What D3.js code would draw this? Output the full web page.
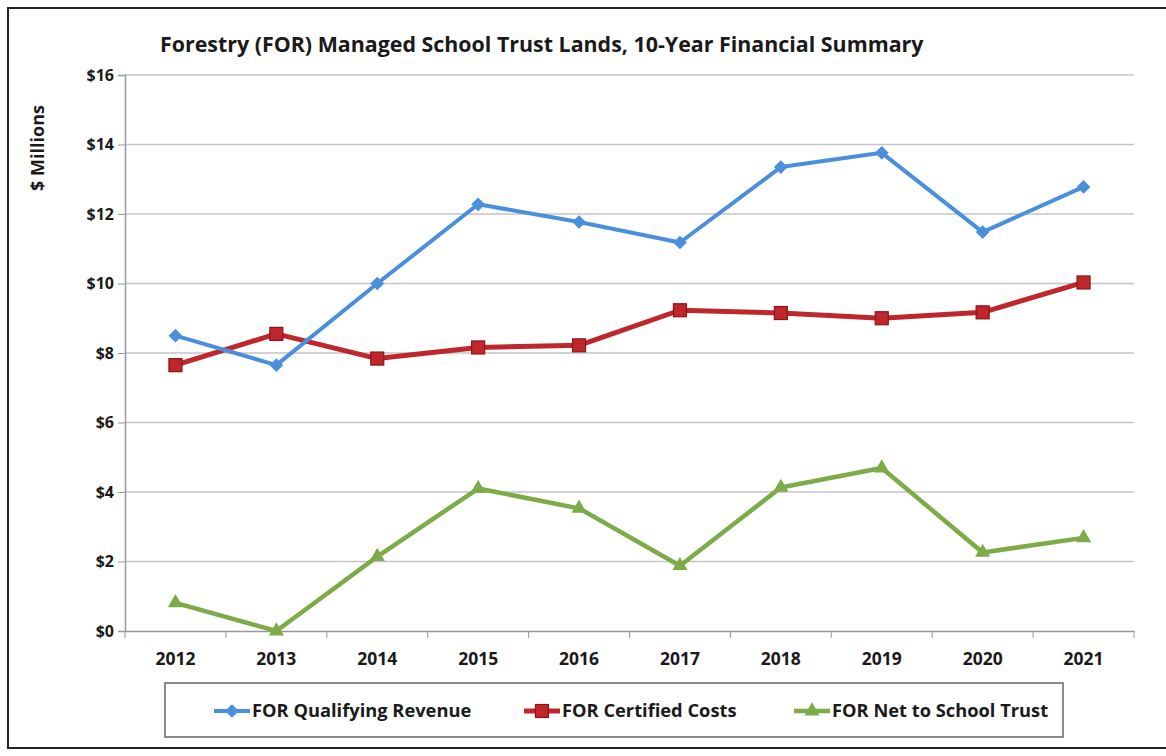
<!DOCTYPE html>
<html><head><meta charset="utf-8">
<script src="https://cdn.jsdelivr.net/npm/d3@7"></script>
<style>body{margin:0;background:#fff}svg{display:block}text{font-family:"Open Sans",Lato,sans-serif;font-weight:700;fill:#1a1a1a}</style>
</head><body><svg id="c" width="1166" height="756"></svg>
<script>
const years = ["2012","2013","2014","2015","2016","2017","2018","2019","2020","2021"];
const revenue = [8.5, 7.65, 10.0, 12.28, 11.77, 11.18, 13.35, 13.76, 11.48, 12.78];
const costs = [7.65, 8.55, 7.84, 8.16, 8.22, 9.23, 9.15, 9.0, 9.17, 10.03];
const net = [0.81, 0.0, 2.14, 4.1, 3.53, 1.88, 4.13, 4.69, 2.26, 2.68];
const yTicks = [0,2,4,6,8,10,12,14,16];
const seriesNames = ["FOR Qualifying Revenue","FOR Certified Costs","FOR Net to School Trust"];
const colors = ["#4a8fdc","#c0272d","#7dab48"];

const svg = d3.select("#c");
svg.append("rect").attr("x",8).attr("y",8).attr("width",1170).attr("height",740)
  .attr("fill","none").attr("stroke","#222").attr("stroke-width",2);

const x = d3.scaleBand().domain(years).range([125,1134]);
const y = d3.scaleLinear().domain([0,16]).range([631,75]);

svg.append("g").selectAll("line").data(yTicks.slice(1)).join("line")
  .attr("x1",125).attr("x2",1134).attr("y1",d=>y(d)).attr("y2",d=>y(d))
  .attr("stroke","#c4c4c4").attr("stroke-width",1.5);

const ya = svg.append("g").attr("transform","translate(125,0)")
  .call(d3.axisLeft(y).tickValues(yTicks).tickFormat(d=>"$"+d).tickSize(7).tickPadding(4));
ya.select(".domain").attr("stroke","#999").attr("stroke-width",1.5);
ya.selectAll(".tick line").attr("stroke","#999");
ya.selectAll("text").style("font-size","16px").attr("fill","#1a1a1a");

const xa = svg.append("g").attr("transform","translate(0,631)")
  .call(d3.axisBottom(x).tickSize(0).tickPadding(22));
xa.select(".domain").attr("stroke","#999").attr("stroke-width",1.5);
xa.selectAll("text").style("font-size","17.5px").attr("fill","#1a1a1a");
const bounds = years.map(d=>x(d)).concat([x(years[years.length-1])+x.bandwidth()]);
svg.append("g").selectAll("line").data(bounds).join("line")
  .attr("x1",d=>d).attr("x2",d=>d).attr("y1",631).attr("y2",638).attr("stroke","#999");

svg.append("text").attr("x",160).attr("y",52).style("font-size","21.4px").text("Forestry (FOR) Managed School Trust Lands, 10-Year Financial Summary");
svg.append("text").attr("transform","translate(44,148) rotate(-90)").attr("text-anchor","middle")
  .style("font-size","18px").text("$ Millions");

const cx = d => x(d)+x.bandwidth()/2;
const line = d3.line().x((d,i)=>cx(years[i])).y(d=>y(d));
const data = [revenue,costs,net];
const widths = [4,5,4.5];

function marker(g, k, px, py){
  if(k===0){
    g.append("path").attr("d",d3.symbol(d3.symbolDiamond2).size(120)()).attr("transform",`translate(${px},${py})`).attr("fill",colors[0]);
  } else if(k===1){
    g.append("rect").attr("x",px-6.5).attr("y",py-6.5).attr("width",13).attr("height",13).attr("fill","#c0272d").attr("stroke","#8a1515").attr("stroke-width",1.2);
  } else {
    g.append("path").attr("d",d3.symbol(d3.symbolTriangle).size(100)()).attr("transform",`translate(${px},${py})`).attr("fill",colors[2]);
  }
}
[2,1,0].forEach(k=>{
  svg.append("path").datum(data[k]).attr("d",line).attr("fill","none").attr("stroke",colors[k])
    .attr("stroke-width",widths[k]).attr("stroke-linejoin","round");
  const g = svg.append("g");
  data[k].forEach((v,i)=>marker(g,k,cx(years[i]),y(v)));
});

svg.append("rect").attr("x",165).attr("y",683).attr("width",898).attr("height",54).attr("fill","#fff").attr("stroke","#666").attr("stroke-width",1.5);
const lx = [214,524,794];
seriesNames.forEach((n,k)=>{
  const g = svg.append("g");
  g.append("line").attr("x1",lx[k]).attr("x2",lx[k]+36).attr("y1",711).attr("y2",711).attr("stroke",colors[k]).attr("stroke-width",widths[k]);
  marker(g,k,lx[k]+18,711);
  g.append("text").attr("x",lx[k]+38).attr("y",717).style("font-size","18.3px").text(n);
});
</script></body></html>
